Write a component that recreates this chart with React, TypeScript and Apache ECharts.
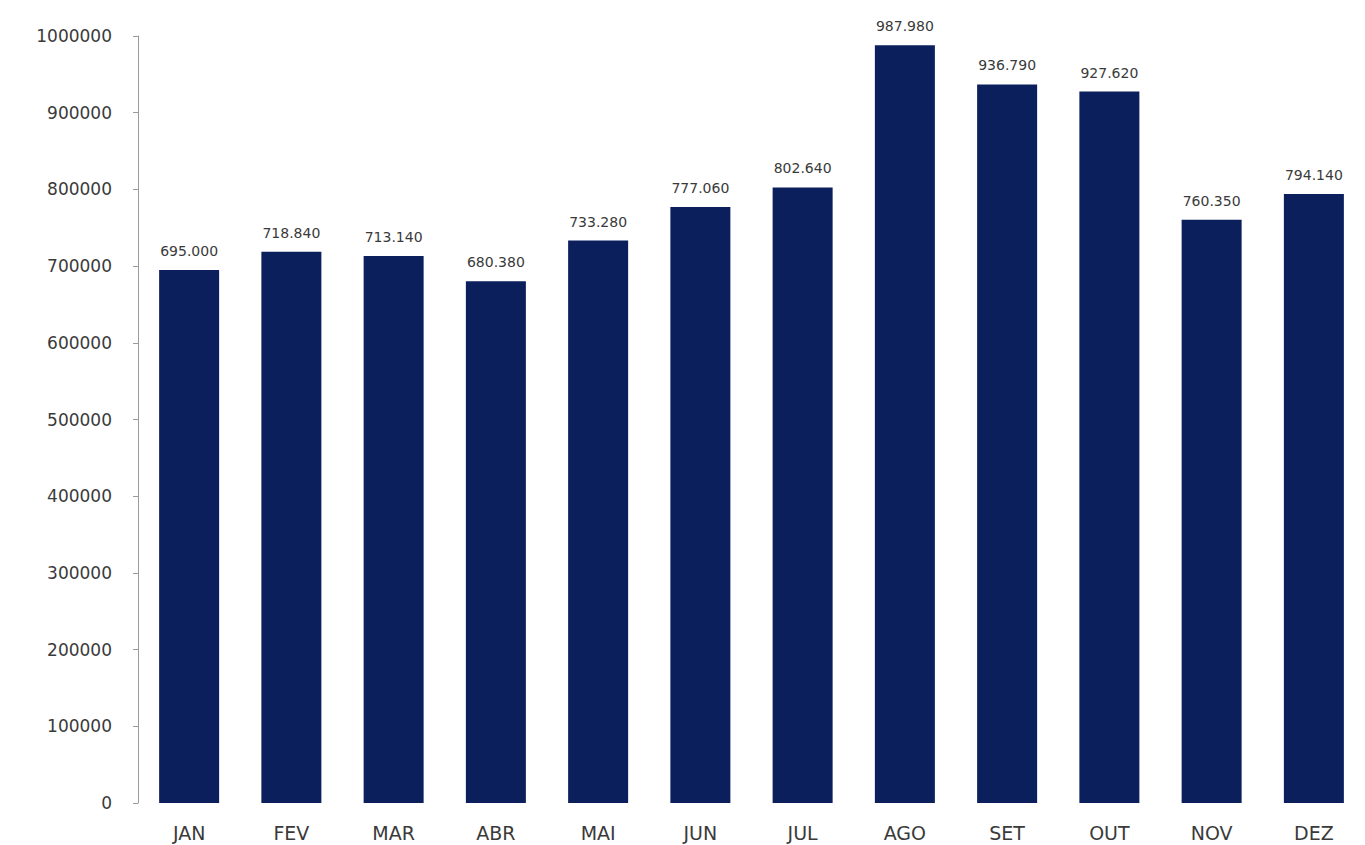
import React, { useEffect, useRef } from "react";
import * as echarts from "echarts";

// Monthly totals
const months = ["JAN", "FEV", "MAR", "ABR", "MAI", "JUN", "JUL", "AGO", "SET", "OUT", "NOV", "DEZ"];
const totals = [695000, 718840, 713140, 680380, 733280, 777060, 802640, 987980, 936790, 927620, 760350, 794140];
const yTicks = { min: 0, max: 1000000, interval: 100000 };

const FONT = "'DejaVu Sans', 'Open Sans', sans-serif";

const fmtThousands = (v: number) =>
  String(Math.round(v)).replace(/\B(?=(\d{3})+(?!\d))/g, ".");

export default function App() {
  const ref = useRef<HTMLDivElement>(null);

  useEffect(() => {
    if (!ref.current) return;
    const chart = echarts.init(ref.current, undefined, { renderer: "svg" });
    chart.setOption({
      animation: false,
      backgroundColor: "#ffffff",
      grid: { left: 138, right: 0, top: 36, bottom: 42, containLabel: false },
      xAxis: {
        type: "category",
        data: months,
        axisLine: { show: false },
        axisTick: { show: false },
        axisLabel: {
          color: "#3a3a3a",
          fontFamily: FONT,
          fontSize: 19,
          margin: 20,
        },
      },
      yAxis: {
        type: "value",
        min: yTicks.min,
        max: yTicks.max,
        interval: yTicks.interval,
        splitLine: { show: false },
        axisLine: { show: true, lineStyle: { color: "#9a9a9a", width: 1 } },
        axisTick: { show: true, inside: false, length: 5, lineStyle: { color: "#9a9a9a" } },
        axisLabel: {
          color: "#3a3a3a",
          fontFamily: FONT,
          fontSize: 17,
          margin: 26,
          formatter: (v: number) => String(v),
        },
      },
      series: [
        {
          type: "bar",
          data: totals,
          barWidth: 60,
          itemStyle: { color: "#0b1f5c" },
          label: {
            show: true,
            position: "top",
            distance: 12,
            color: "#3a3a3a",
            fontFamily: FONT,
            fontSize: 14,
            formatter: (p: any) => fmtThousands(p.value),
          },
        },
      ],
    });
    return () => chart.dispose();
  }, []);

  return (
    <div
      ref={ref}
      style={{ position: "absolute", left: 0, top: 0, width: 1365, height: 845 }}
    />
  );
}
